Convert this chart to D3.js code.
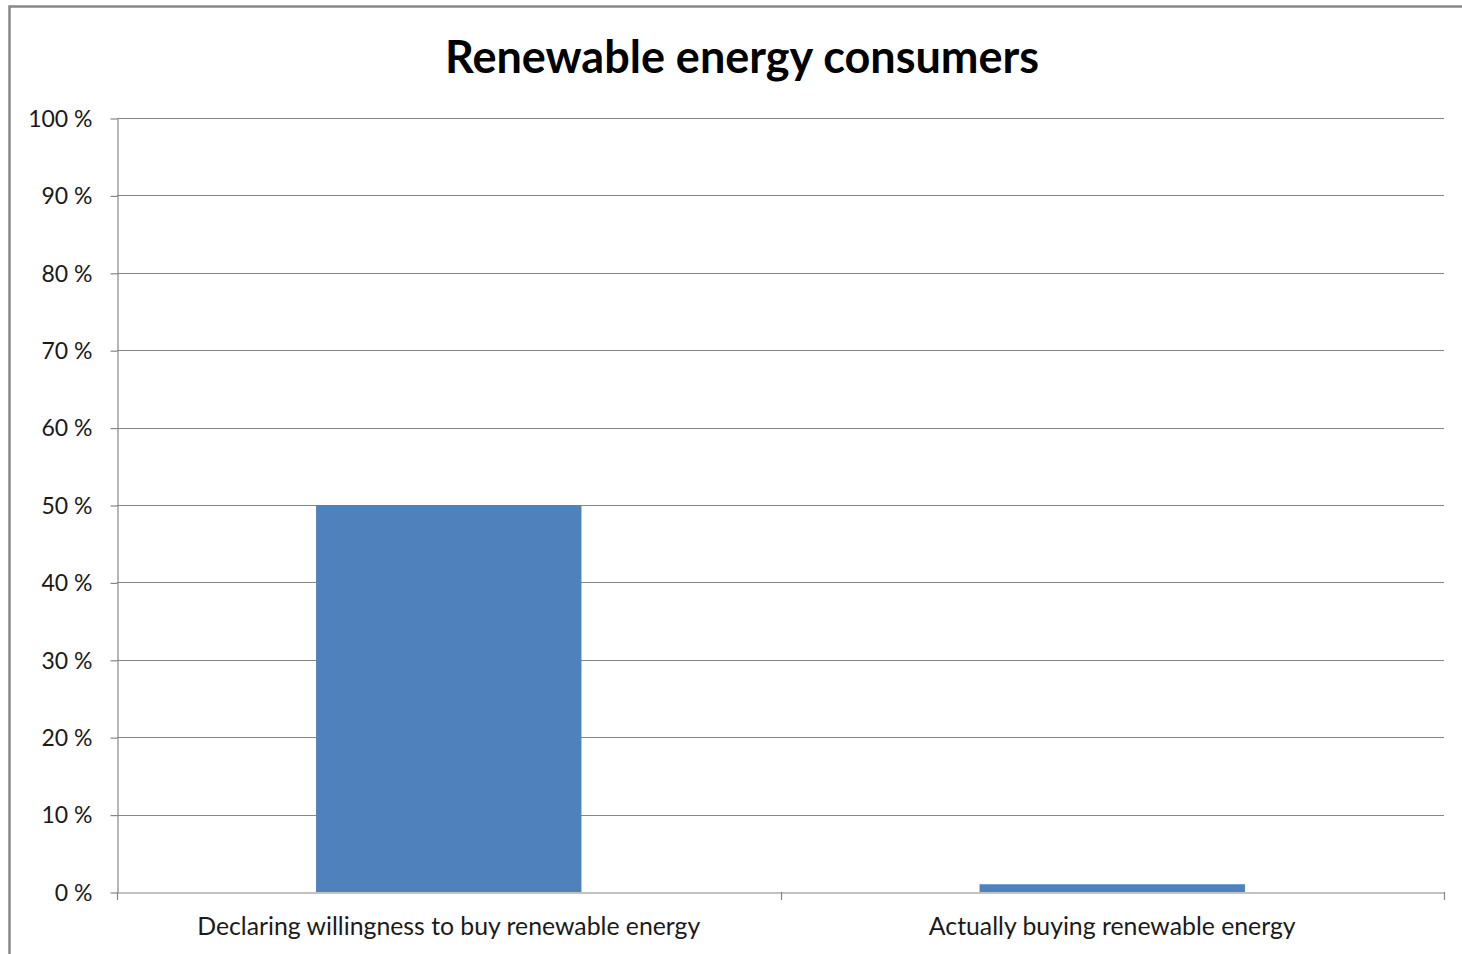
<!DOCTYPE html>
<html>
<head>
<meta charset="utf-8">
<script src="https://cdn.jsdelivr.net/npm/d3@7"></script>
<style>
  html, body { margin: 0; padding: 0; background: #fff; }
  svg { display: block; }
</style>
</head>
<body>
<script>
// Share of consumers, in percent
const categories = ["Declaring willingness to buy renewable energy", "Actually buying renewable energy"];
const values = [50, 1];
const yTicks = [0, 10, 20, 30, 40, 50, 60, 70, 80, 90, 100];
const chartTitle = "Renewable energy consumers";

const W = 1462, H = 954;
const margin = { left: 117, right: 18, top: 118, bottom: 62 };
const font = "Lato, 'Open Sans', sans-serif";
const gridColor = "#868686";

const svg = d3.select("body").append("svg")
  .attr("width", W).attr("height", H);

// outer chart frame (runs off the right and bottom edges)
svg.append("rect")
  .attr("x", 9.5).attr("y", 6.5)
  .attr("width", W + 20).attr("height", H + 20)
  .attr("fill", "#fff")
  .attr("stroke", "#888").attr("stroke-width", 2.5);

const x = d3.scaleBand()
  .domain(categories)
  .range([margin.left, W - margin.right])
  .padding(0);

const y = d3.scaleLinear()
  .domain([0, 100])
  .range([H - margin.bottom, margin.top]);

// horizontal gridlines
svg.append("g")
  .selectAll("line")
  .data(yTicks.filter(d => d > 0))
  .join("line")
  .attr("x1", margin.left).attr("x2", W - margin.right)
  .attr("y1", d => Math.round(y(d)) + 0.5).attr("y2", d => Math.round(y(d)) + 0.5)
  .attr("stroke", gridColor).attr("stroke-width", 1.2);

// y axis
const yAxis = svg.append("g")
  .attr("transform", `translate(${margin.left + 0.5},0)`)
  .call(d3.axisLeft(y).tickValues(yTicks).tickSize(7).tickSizeOuter(0)
    .tickFormat(d => d + " %"));
yAxis.select(".domain").attr("stroke", gridColor).attr("stroke-width", 1.2);
yAxis.selectAll(".tick line").attr("stroke", gridColor).attr("stroke-width", 1.2)
  .attr("transform", "translate(0,0.5)");
yAxis.selectAll(".tick text")
  .attr("x", -25)
  .attr("dy", "0.36em")
  .attr("font-family", font).attr("font-size", 23).attr("fill", "#1a1a1a");

// bars
const barFrac = 0.4;
svg.append("g")
  .selectAll("rect")
  .data(categories.map((c, i) => ({ c, v: values[i] })))
  .join("rect")
  .attr("x", d => x(d.c) + x.bandwidth() * (1 - barFrac) / 2)
  .attr("width", x.bandwidth() * barFrac)
  .attr("y", d => y(d.v))
  .attr("height", d => y(0) - y(d.v))
  .attr("fill", "#4F81BD");

// x axis
const xAxis = svg.append("g")
  .attr("transform", `translate(0,${Math.round(y(0)) + 0.5})`)
  .call(d3.axisBottom(x).tickSize(0).tickSizeOuter(0));
xAxis.select(".domain").attr("stroke", gridColor).attr("stroke-width", 1.2);
xAxis.selectAll(".tick text")
  .attr("y", 42)
  .attr("dy", "0")
  .attr("font-family", font).attr("font-size", 24.8).attr("fill", "#1a1a1a");

// category boundary ticks
const bounds = [margin.left, margin.left + x.bandwidth(), W - margin.right];
svg.append("g")
  .selectAll("line")
  .data(bounds)
  .join("line")
  .attr("x1", d => Math.round(d) + 0.5).attr("x2", d => Math.round(d) + 0.5)
  .attr("y1", Math.round(y(0))).attr("y2", Math.round(y(0)) + 8)
  .attr("stroke", gridColor).attr("stroke-width", 1.2);

// title
svg.append("text")
  .attr("x", 742).attr("y", 73)
  .attr("text-anchor", "middle")
  .attr("font-family", font).attr("font-weight", "bold").attr("font-size", 45)
  .attr("fill", "#000")
  .text(chartTitle);
</script>
</body>
</html>
